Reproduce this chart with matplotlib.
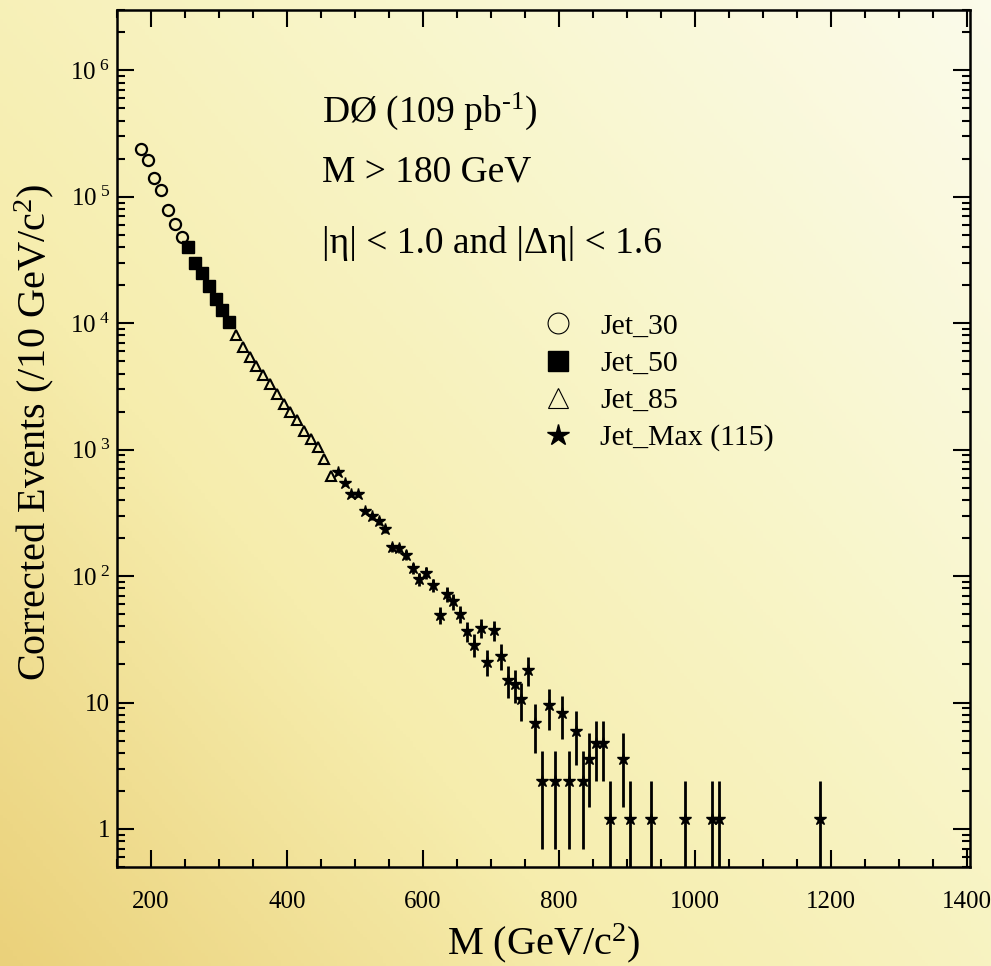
import numpy as np
import matplotlib
matplotlib.use('Agg')
import matplotlib.pyplot as plt
from matplotlib.lines import Line2D
from matplotlib.colors import LinearSegmentedColormap

# Data (bin centres in GeV, corrected events / 10 GeV)
jet30_m = [185, 195, 205, 215, 225, 235, 245]
jet30_n = [2.39e5, 1.94e5, 1.41e5, 1.14e5, 7.8e4, 6.1e4, 4.8e4]

jet50_m = [255, 265, 275, 285, 295, 305, 315]
jet50_n = [3.99e4, 3.01e4, 2.51e4, 1.98e4, 1.54e4, 1.28e4, 1.02e4]

jet85_m = [325, 335, 345, 355, 365, 375, 385, 395, 405, 415, 425, 435, 445, 455, 465]
jet85_n = [8030, 6490, 5400, 4560, 3870, 3320, 2770, 2300, 1980, 1700, 1415, 1216, 1043, 850, 620]

jetmax_m = [475, 485, 495, 505, 515, 525, 535, 545, 555, 565,
            575, 585, 595, 605, 615, 625, 635, 645, 655, 665,
            675, 685, 695, 705, 715, 725, 735, 745, 755, 765,
            775, 785, 795, 805, 815, 825, 835, 845, 855, 865,
            875, 895, 905, 935, 985, 1025, 1035, 1185]
jetmax_n = [661, 544, 445, 445, 328, 299, 273, 237, 170, 166,
            147, 116, 95, 106, 85, 49.5, 72, 63, 50.5, 36.5,
            28.7, 39, 21.1, 37.5, 23.5, 15.1, 14.1, 10.7, 18.2, 6.9,
            2.4, 9.5, 2.4, 8.2, 2.4, 5.9, 2.4, 3.6, 4.8, 4.8,
            1.2, 3.6, 1.2, 1.2, 1.2, 1.2, 1.2, 1.2]
jetmax_err = [28, 26, 23, 23, 20, 19, 18, 17, 14, 14,
              13, 12, 11, 11, 10, 7.7, 9.3, 8.7, 7.8, 6.6,
              5.9, 6.8, 5.0, 6.7, 5.3, 4.3, 4.1, 3.6, 4.7, 2.9,
              1.7, 3.4, 1.7, 3.1, 1.7, 2.7, 1.7, 2.1, 2.4, 2.4,
              1.2, 2.1, 1.2, 1.2, 1.2, 1.2, 1.2, 1.2]

xtick_vals = [200, 400, 600, 800, 1000, 1200, 1400]
ytick_vals = [1, 10, 1e2, 1e3, 1e4, 1e5, 1e6]
ytick_labels = ['1', '10', r'$\mathregular{10^{\ 2}}$', r'$\mathregular{10^{\ 3}}$',
                r'$\mathregular{10^{\ 4}}$', r'$\mathregular{10^{\ 5}}$', r'$\mathregular{10^{\ 6}}$']
legend_labels = ['Jet_30', 'Jet_50', 'Jet_85', 'Jet_Max (115)']

plt.rcParams['font.family'] = ['Liberation Serif', 'DejaVu Serif']
plt.rcParams['mathtext.fontset'] = 'custom'
plt.rcParams['mathtext.rm'] = 'Liberation Serif'
plt.rcParams['mathtext.it'] = 'Liberation Serif:italic'
plt.rcParams['mathtext.bf'] = 'Liberation Serif:bold'

fig = plt.figure(figsize=(9.91, 9.66), dpi=100)

# yellow gradient background behind everything
bg = fig.add_axes([0, 0, 1, 1], zorder=0)
yy, xx = np.mgrid[0:1:300j, 0:1:300j]
t = 0.55 * xx + 0.45 * yy
cmap = LinearSegmentedColormap.from_list(
    'bg', [(0.92, 0.82, 0.48), (0.965, 0.93, 0.68), (0.975, 0.965, 0.80), (0.985, 0.985, 0.92)])
bg.imshow(t, origin='lower', extent=[0, 1, 0, 1], aspect='auto', cmap=cmap, vmin=0, vmax=1)
bg.axis('off')

ax = fig.add_axes([117 / 991, 1 - 867 / 966, 853 / 991, 857 / 966], zorder=1)
ax.set_facecolor('none')

ax.plot(jet30_m, jet30_n, 'o', ms=8, mfc='none', mec='black', mew=1.6)
ax.plot(jet50_m, jet50_n, 's', ms=8.3, mfc='black', mec='black')
ax.plot(jet85_m, jet85_n, '^', ms=7.5, mfc='none', mec='black', mew=1.5)
ax.errorbar(jetmax_m, jetmax_n, yerr=jetmax_err, fmt='*', ms=9, color='black',
            ecolor='black', elinewidth=2.0, capsize=0)

ax.set_yscale('log')
ax.set_xlim(150, 1405)
ax.set_ylim(0.5, 3e6)

ax.set_xticks(xtick_vals)
ax.set_xticks(np.arange(150, 1401, 50), minor=True)
ax.set_yticks(ytick_vals, labels=ytick_labels)
ax.tick_params(which='both', direction='in', top=True, right=True, width=1.5)
ax.tick_params(which='major', length=12, labelsize=18)
ax.tick_params(which='minor', length=6)
ax.tick_params(axis='y', which='major', pad=5)
ax.tick_params(axis='x', which='major', pad=17)
ax.yaxis.set_minor_formatter(plt.NullFormatter())
for s in ax.spines.values():
    s.set_linewidth(1.8)

ax.set_xlabel(r'M (GeV/c$^2$)', fontsize=29, va='center')
ax.xaxis.set_label_coords(0.5, -0.089)
ax.set_ylabel(r'Corrected Events (/10 GeV/c$^2$)', fontsize=29, va='center')
ax.yaxis.set_label_coords(-0.097, 0.507)

ax.text(0.240, 0.870, r'DØ (109 pb$^{\text{-1}}$)', transform=ax.transAxes, fontsize=27, va='baseline')
ax.text(0.240, 0.800, 'M > 180 GeV', transform=ax.transAxes, fontsize=27, va='baseline')
ax.text(0.240, 0.716, '|η| < 1.0 and |Δη| < 1.6', transform=ax.transAxes, fontsize=27, va='baseline')

handles = [
    Line2D([], [], ls='none', marker='o', ms=15, mfc='none', mec='black', mew=0.8),
    Line2D([], [], ls='none', marker='s', ms=14, mfc='black', mec='black'),
    Line2D([], [], ls='none', marker='^', ms=15, mfc='none', mec='black', mew=0.8),
    Line2D([], [], ls='none', marker='*', ms=16, mfc='black', mec='black'),
]
ax.legend(handles, legend_labels, loc='upper left', bbox_to_anchor=((537 - 117) / 853, (867 - 313) / 857),
          frameon=False, fontsize=21.5, handlelength=1.4, handletextpad=0.72,
          labelspacing=0.34, borderpad=0, borderaxespad=0)

fig.savefig('out.png', dpi=100)
